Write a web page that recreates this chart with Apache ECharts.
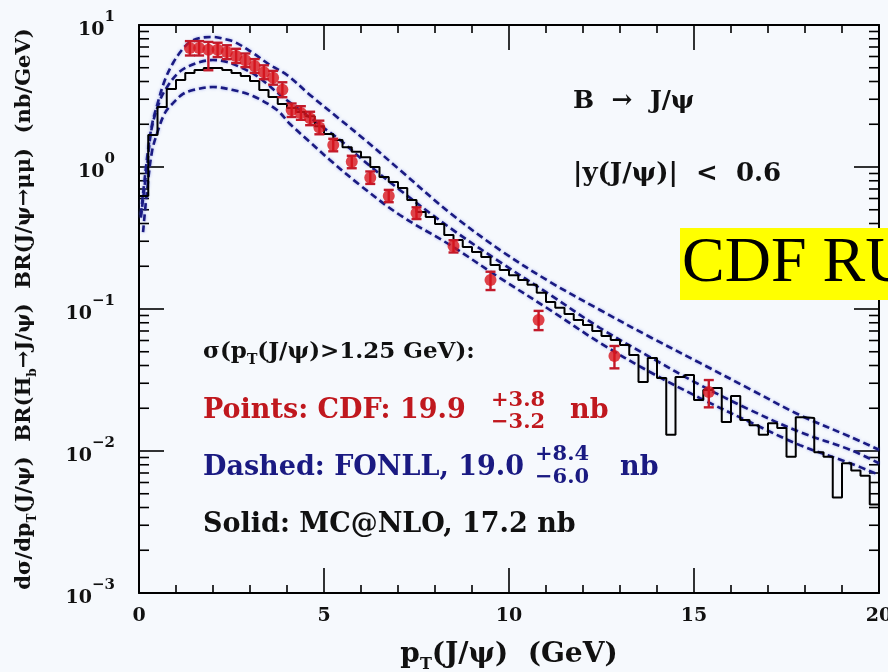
<!DOCTYPE html>
<html><head><meta charset="utf-8">
<script src="https://cdn.jsdelivr.net/npm/echarts@6/dist/echarts.min.js"></script>
<style>html,body{margin:0;padding:0;background:#f6f9fd}#c{width:888px;height:672px}</style>
</head><body><div id="c"></div><script>
// CDF Run II B -> J/psi cross section (points, with errors)
const cdfPt  = [1.375,1.625,1.875,2.125,2.375,2.625,2.875,3.125,3.375,3.625,3.875,4.125,4.375,4.625,4.875,5.25,5.75,6.25,6.75,7.5,8.5,9.5,10.8,12.85,15.4];
const cdfVal = [6.9,6.9,6.7,6.7,6.45,6.05,5.65,5.15,4.65,4.25,3.5,2.52,2.4,2.2,1.9,1.43,1.09,0.84,0.625,0.474,0.278,0.16,0.0838,0.0467,0.026];
const cdfLo  = [6.1,6.1,4.8,5.95,5.75,5.4,5.05,4.6,4.15,3.8,3.1,2.25,2.15,1.97,1.7,1.29,0.98,0.76,0.565,0.43,0.25,0.136,0.071,0.0382,0.0203];
const cdfHi  = [7.7,7.7,7.6,7.5,7.2,6.8,6.3,5.75,5.2,4.75,3.95,2.8,2.68,2.45,2.12,1.58,1.2,0.93,0.69,0.52,0.305,0.183,0.097,0.0549,0.0316];

// FONLL: upper band edge, central, lower band edge
const upPt  = [0.05,0.22,0.35,0.49,0.70,0.92,1.16,1.38,1.65,2.0,2.32,2.59,3.08,3.54,4.0,4.62,5.35,6.11,7.05,8.41,9.76,11.11,12.46,13.81,15.16,16.51,17.86,19.22,20.0];
const upVal = [0.46,1.17,1.98,2.73,4.10,5.40,6.67,7.59,8.10,8.23,7.96,7.59,6.35,5.23,4.45,3.22,2.25,1.55,0.953,0.474,0.260,0.155,0.0984,0.0635,0.0417,0.0273,0.0179,0.0126,0.0102];
const cenPt  = [0.05,0.22,0.35,0.57,0.76,1.03,1.30,1.65,2.0,2.38,2.73,3.14,3.46,3.81,4.35,4.81,5.43,6.05,7.05,8.41,9.76,11.11,12.46,13.81,15.16,16.51,17.86,19.22,20.0];
const cenVal = [0.44,1.03,1.91,2.96,3.66,4.52,5.06,5.49,5.67,5.49,5.06,4.45,3.85,3.22,2.52,2.04,1.55,1.12,0.689,0.372,0.214,0.126,0.0735,0.0459,0.0292,0.0195,0.0136,0.0102,0.0082];
const loPt  = [0.11,0.22,0.35,0.49,0.70,0.92,1.19,1.46,2.0,2.54,3.08,3.73,4.08,4.62,5.16,5.97,7.05,8.41,9.76,11.11,12.46,13.81,15.16,16.51,17.86,19.22,20.0];
const loVal = [0.348,0.69,1.28,1.73,2.40,2.82,3.27,3.48,3.66,3.48,3.16,2.52,2.01,1.50,1.12,0.746,0.459,0.282,0.165,0.0984,0.0577,0.0360,0.0236,0.0160,0.0110,0.0082,0.0068];

// MC@NLO histogram, 0.25 GeV bins from 0 to 20 GeV
const mcBinWidth = 0.25;
const mcVal = [
  0.625,1.68,2.65,3.54,4.10,4.59,4.82,4.98,4.98,4.82,
  4.59,4.37,4.03,3.48,3.11,2.78,2.60,2.44,2.28,1.94,
  1.71,1.55,1.38,1.28,1.17,1.00,0.851,0.784,0.711,0.586,
  0.482,0.445,0.397,0.332,0.306,0.273,0.252,0.232,0.204,0.188,
  0.173,0.160,0.148,0.130,0.112,0.102,0.0922,0.0838,0.0771,0.0700,
  0.0646,0.0605,0.0557,0.0474,0.0306,0.0452,0.0327,0.0130,0.0332,0.0343,
  0.0229,0.0269,0.0278,0.0160,0.0244,0.0165,0.0152,0.0130,0.0157,0.0145,
  0.0091,0.0173,0.0171,0.0098,0.0091,0.0047,0.0082,0.0073,0.0067,0.0042
];

const xTickLabels = ['0','5','10','15','20'];

const FONT = 'DejaVu Serif';
const BLUE = '#1a1a82';
const RED = '#d8141c';
const RED_TXT = '#c0181e';
const INK = '#111';

const zip = (a, b) => a.map((v, i) => [v, b[i]]);
const histData = mcVal.map((v, i) => [i * mcBinWidth, v]);
histData.push([mcVal.length * mcBinWidth, mcVal[mcVal.length - 1]]);

// minor log ticks 2..9 in every decade
const minorY = [];
for (let e = -3; e < 1; e++) for (let m = 2; m <= 9; m++) minorY.push(m * Math.pow(10, e));

const dashStyle = {
  color: BLUE, width: 2.6, type: [7, 4],
  shadowColor: 'rgba(80,100,220,0.5)', shadowBlur: 3
};

const axisCommon = {
  axisLine: { show: true, onZero: false, lineStyle: { color: '#000', width: 2 } },
  splitLine: { show: false }
};

const txt = (size, color, bold) => ({ fontFamily: FONT, fontSize: size, fontWeight: bold ? 'bold' : 'normal', fill: color });

const chart = echarts.init(document.getElementById('c'), null, { renderer: 'canvas' });
chart.setOption({
  backgroundColor: '#f6f9fd',
  animation: false,
  grid: { left: 139, top: 25, width: 740, height: 568, outerBoundsMode: 'none', containLabel: false },
  xAxis: [
    Object.assign({}, axisCommon, {
      type: 'value', min: 0, max: 20, interval: 5, position: 'bottom',
      axisTick: { inside: true, length: 25, lineStyle: { color: '#000', width: 1.6 } },
      minorTick: { show: true, splitNumber: 5, length: 8, lineStyle: { color: '#000', width: 1.6 } },
      axisLabel: {
        margin: 14, fontFamily: FONT, fontSize: 19, fontWeight: 'bold', color: INK,
        formatter: v => xTickLabels[Math.round(v / 5)]
      },
      name: '{n|p}{s|T}{n|(J/ψ)  (GeV)}',
      nameLocation: 'middle', nameGap: 44,
      nameTextStyle: {
        rich: {
          n: { fontFamily: FONT, fontSize: 28, fontWeight: 'bold', color: INK, lineHeight: 36 },
          s: { fontFamily: FONT, fontSize: 16, fontWeight: 'bold', color: INK, verticalAlign: 'bottom', lineHeight: 22 }
        }
      }
    }),
    Object.assign({}, axisCommon, {
      type: 'value', min: 0, max: 20, interval: 5, position: 'top',
      axisTick: { inside: true, length: 25, lineStyle: { color: '#000', width: 1.6 } },
      minorTick: { show: true, splitNumber: 5, length: 8, lineStyle: { color: '#000', width: 1.6 } },
      axisLabel: { show: false }
    })
  ],
  yAxis: [
    Object.assign({}, axisCommon, {
      type: 'log', logBase: 10, min: 0.001, max: 10, position: 'left',
      axisTick: { inside: true, length: 25, lineStyle: { color: '#000', width: 1.6 } },
      axisLabel: {
        margin: 24, color: INK,
        formatter: v => {
          const e = Math.round(Math.log10(v));
          return '{b|10}{e|' + (e < 0 ? '−' + (-e) : e) + '}';
        },
        rich: {
          b: { fontFamily: FONT, fontSize: 19, fontWeight: 'bold', color: INK, lineHeight: 30, verticalAlign: 'bottom' },
          e: { fontFamily: FONT, fontSize: 15, fontWeight: 'bold', color: INK, lineHeight: 30, verticalAlign: 'top' }
        }
      },
      name: '{n|dσ/dp}{s|T}{n|(J/ψ)  BR(H}{s|b}{n|→J/ψ)  BR(J/ψ→μμ)  (nb/GeV)}',
      nameLocation: 'middle', nameRotate: 90, nameGap: 100,
      nameTextStyle: {
        padding: [0, 0, 0, 0],
        rich: {
          n: { fontFamily: FONT, fontSize: 21, fontWeight: 'bold', color: INK, lineHeight: 28 },
          s: { fontFamily: FONT, fontSize: 12, fontWeight: 'bold', color: INK, verticalAlign: 'bottom', lineHeight: 16 }
        }
      }
    }),
    Object.assign({}, axisCommon, {
      type: 'log', logBase: 10, min: 0.001, max: 10, position: 'right',
      axisTick: { inside: true, length: 25, lineStyle: { color: '#000', width: 1.6 } },
      axisLabel: { show: false }
    })
  ],
  series: [
    {
      // minor log ticks on both vertical edges
      type: 'custom', coordinateSystem: 'cartesian2d', silent: true, clip: false, z: 1,
      data: minorY.map(v => [0, v]),
      renderItem: (params, api) => {
        const cs = params.coordSys;
        const y = api.coord([0, api.value(1)])[1];
        const st = { stroke: '#000', lineWidth: 1.6 };
        return {
          type: 'group', children: [
            { type: 'line', shape: { x1: cs.x, y1: y, x2: cs.x + 10, y2: y }, style: st },
            { type: 'line', shape: { x1: cs.x + cs.width - 10, y1: y, x2: cs.x + cs.width, y2: y }, style: st }
          ]
        };
      }
    },
    { type: 'line', name: 'FONLL up', data: zip(upPt, upVal), smooth: 0.35, showSymbol: false, lineStyle: dashStyle, z: 2 },
    { type: 'line', name: 'FONLL', data: zip(cenPt, cenVal), smooth: 0.35, showSymbol: false, lineStyle: dashStyle, z: 2 },
    { type: 'line', name: 'FONLL down', data: zip(loPt, loVal), smooth: 0.35, showSymbol: false, lineStyle: dashStyle, z: 2 },
    {
      type: 'line', name: 'MC@NLO', data: histData, step: 'end', showSymbol: false,
      lineStyle: { color: '#000', width: 2 }, z: 3
    },
    {
      // CDF error bars
      type: 'custom', name: 'CDF errors', coordinateSystem: 'cartesian2d', z: 4,
      data: cdfPt.map((x, i) => [x, cdfVal[i], cdfLo[i], cdfHi[i]]),
      renderItem: (params, api) => {
        const x = api.value(0);
        const pLo = api.coord([x, api.value(2)]);
        const pHi = api.coord([x, api.value(3)]);
        const st = { stroke: '#c21a2a', lineWidth: 2.4 };
        const w = 5;
        return {
          type: 'group', children: [
            { type: 'line', shape: { x1: pLo[0], y1: pLo[1], x2: pHi[0], y2: pHi[1] }, style: st },
            { type: 'line', shape: { x1: pLo[0] - w, y1: pLo[1], x2: pLo[0] + w, y2: pLo[1] }, style: st },
            { type: 'line', shape: { x1: pHi[0] - w, y1: pHi[1], x2: pHi[0] + w, y2: pHi[1] }, style: st }
          ]
        };
      }
    },
    {
      type: 'scatter', name: 'CDF', data: zip(cdfPt, cdfVal), symbol: 'circle', symbolSize: 12,
      itemStyle: { color: RED }, z: 5
    }
  ],
  graphic: [
    { type: 'text', left: 573, top: 89, style: Object.assign({ text: 'B  →  J/ψ' }, txt(25, INK, true)) },
    { type: 'text', left: 573, top: 161, style: Object.assign({ text: '|y(J/ψ)|  <  0.6' }, txt(26, INK, true)) },
    { type: 'rect', shape: { x: 680, y: 228, width: 220, height: 72 }, style: { fill: '#ffff00' }, z: 10 },
    { type: 'text', left: 682, top: 232, z: 11, style: { text: 'CDF RU', font: '64px "Liberation Serif"', fill: '#000' } },
    {
      type: 'text', left: 203, top: 341, style: {
        text: '{a|σ(p}{s|T}{a|(J/ψ)>1.25 GeV):}',
        rich: {
          a: { fontFamily: FONT, fontSize: 23, fontWeight: 'bold', fill: INK, lineHeight: 30 },
          s: { fontFamily: FONT, fontSize: 14, fontWeight: 'bold', fill: INK, verticalAlign: 'bottom', lineHeight: 18 }
        }
      }
    },
    { type: 'text', left: 203, top: 397, style: Object.assign({ text: 'Points: CDF: 19.9' }, txt(27, RED_TXT, true)) },
    { type: 'text', left: 491, top: 390, style: Object.assign({ text: '+3.8' }, txt(21, RED_TXT, true)) },
    { type: 'text', left: 491, top: 412, style: Object.assign({ text: '−3.2' }, txt(21, RED_TXT, true)) },
    { type: 'text', left: 570, top: 397, style: Object.assign({ text: 'nb' }, txt(27, RED_TXT, true)) },
    { type: 'text', left: 203, top: 454, style: Object.assign({ text: 'Dashed: FONLL, 19.0' }, txt(27, BLUE, true)) },
    { type: 'text', left: 535, top: 444, style: Object.assign({ text: '+8.4' }, txt(21, BLUE, true)) },
    { type: 'text', left: 535, top: 467, style: Object.assign({ text: '−6.0' }, txt(21, BLUE, true)) },
    { type: 'text', left: 620, top: 454, style: Object.assign({ text: 'nb' }, txt(27, BLUE, true)) },
    { type: 'text', left: 203, top: 511, style: Object.assign({ text: 'Solid: MC@NLO, 17.2 nb' }, txt(27, INK, true)) }
  ]
});
</script></body></html>
